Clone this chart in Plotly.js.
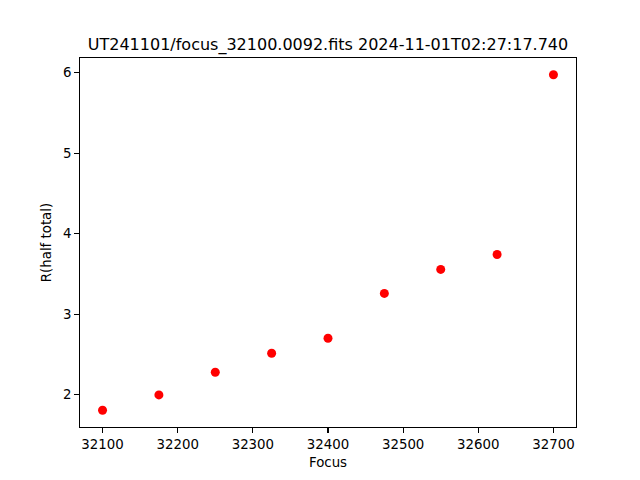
<!DOCTYPE html>
<html>
<head>
<meta charset="utf-8">
<script src="https://cdn.plot.ly/plotly-3.0.1.min.js"></script>
<style>html,body{margin:0;padding:0;background:#fff;}#plot{width:640px;height:480px;}</style>
</head>
<body>
<div id="plot"></div>
<script>
const focus = [32100, 32175, 32250, 32325, 32400, 32475, 32550, 32625, 32700];
const rHalfTotal = [1.806, 1.996, 2.278, 2.514, 2.700, 3.258, 3.556, 3.742, 5.975];
const titleText = "UT241101/focus_32100.0092.fits 2024-11-01T02:27:17.740";
const xLabel = "Focus";
const yLabel = "R(half total)";

function pad(arr) {
  const mn = Math.min(...arr), mx = Math.max(...arr), d = (mx - mn) * 0.05;
  return [mn - d, mx + d];
}

const font = {family: "DejaVu Sans", size: 13.33, color: "#000"};
const axisCommon = {
  showgrid: false, zeroline: false, showline: true, mirror: true,
  linecolor: "#000", linewidth: 1.07, ticks: "outside", ticklen: 4.7,
  tickwidth: 1.07, tickcolor: "#000", tickfont: font
};

const trace = {
  x: focus, y: rHalfTotal, type: "scatter", mode: "markers",
  marker: {color: "#ff0000", size: 9}
};

const layout = {
  width: 640, height: 480,
  margin: {l: 80, r: 64, t: 58, b: 53, pad: 0},
  paper_bgcolor: "#fff", plot_bgcolor: "#fff",
  showlegend: false,
  font: font,
  title: {text: titleText, font: {family: "DejaVu Sans", size: 16, color: "#000"},
          xref: "paper", x: 0.5, xanchor: "center", yref: "container", y: 1 - 44/480, yanchor: "middle"},
  xaxis: Object.assign({}, axisCommon, {range: pad(focus), dtick: 100, tick0: 0, tickformat: "d",
          title: {text: xLabel, font: font, standoff: 6}}),
  yaxis: Object.assign({}, axisCommon, {range: pad(rHalfTotal), dtick: 1, tick0: 0,
          title: {text: yLabel, font: font, standoff: 8}})
};

Plotly.newPlot("plot", [trace], layout, {displayModeBar: false, staticPlot: true});
</script>
</body>
</html>
